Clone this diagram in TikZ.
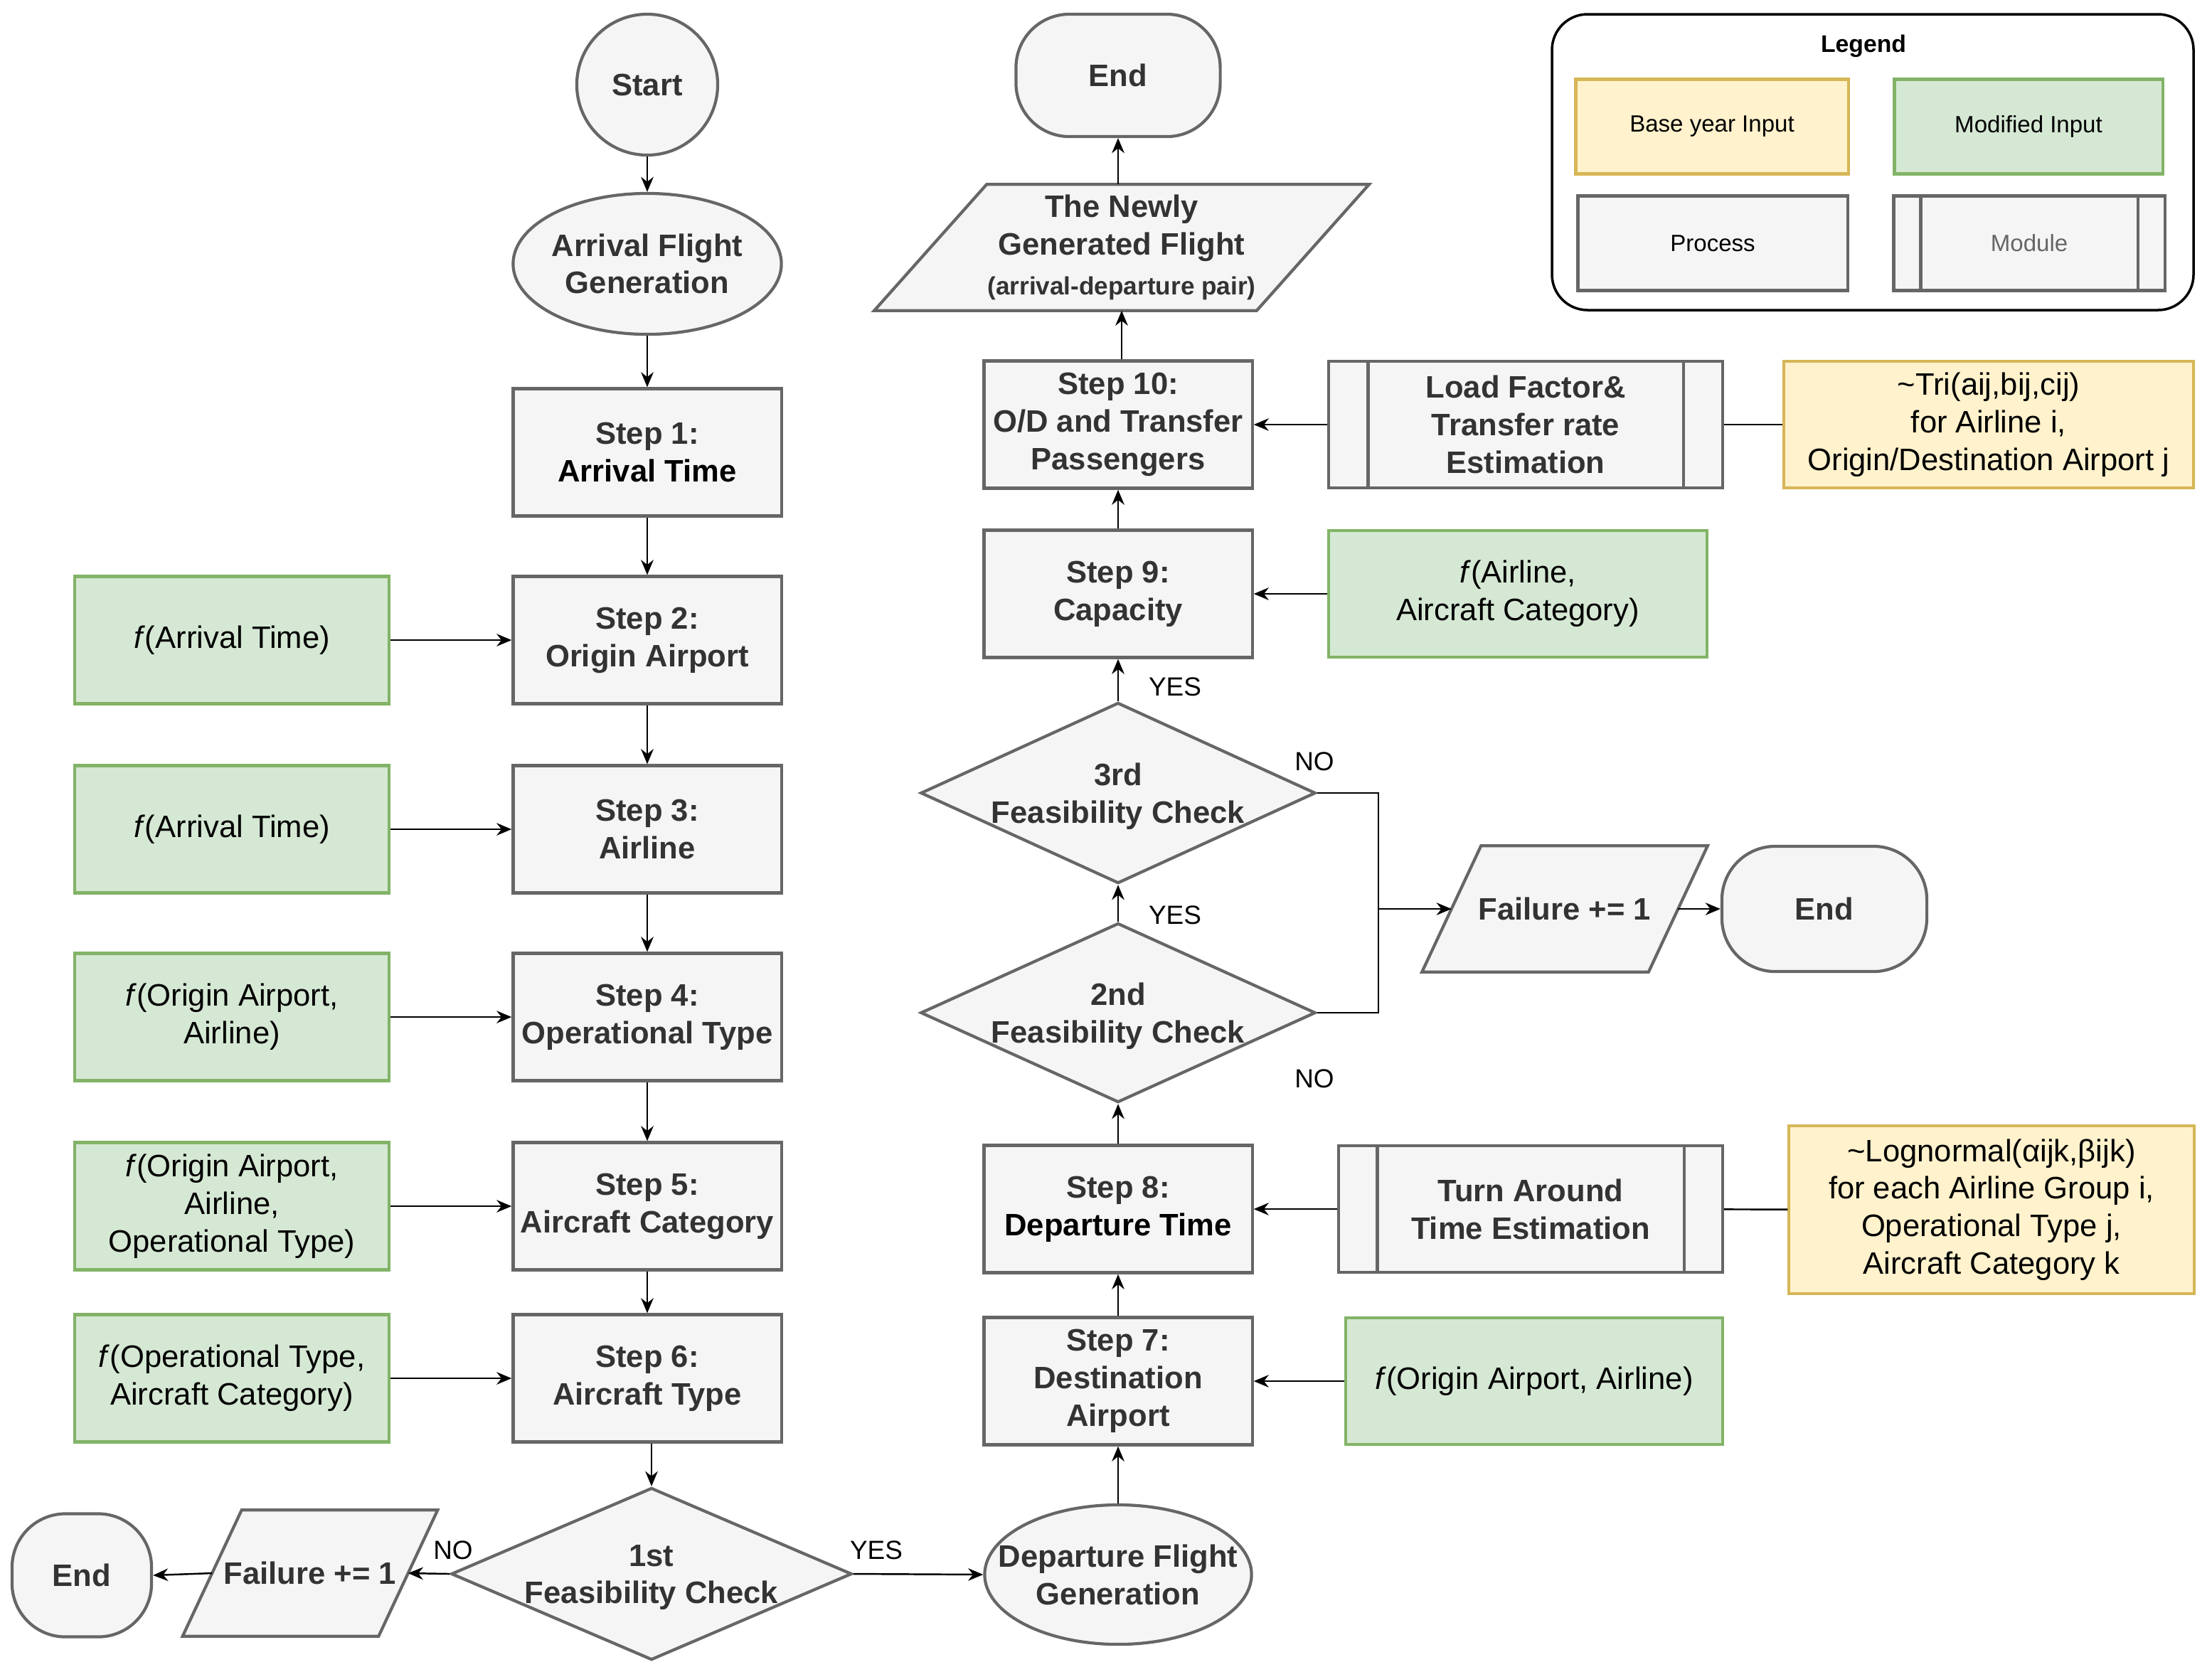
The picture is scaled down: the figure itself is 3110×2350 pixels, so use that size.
\documentclass[tikz,border=0pt]{standalone}
\usepackage{fontspec}
\setmainfont{Liberation Sans}
\usetikzlibrary{shapes.geometric,arrows.meta,backgrounds}
\definecolor{gfill}{HTML}{F5F5F5}
\definecolor{gline}{HTML}{666666}
\definecolor{gtext}{HTML}{333333}
\definecolor{grfill}{HTML}{D5E8D4}
\definecolor{grline}{HTML}{82B366}
\definecolor{yfill}{HTML}{FFF2CC}
\definecolor{yline}{HTML}{D6B656}
\newcommand\paradraw[2]{%
  \begin{scope}[on background layer]
  \draw[pshape] ([xshift=#2]#1.north west) -- ([xshift=#2]#1.north east) -- ([xshift=-#2]#1.south east) -- ([xshift=-#2]#1.south west) -- cycle;
  \end{scope}}
\begin{document}
\begin{tikzpicture}[x=0.01cm,y=-0.01cm,
  mainfont/.style={font=\fontsize{12.4}{15}\selectfont},
  boldfont/.style={font=\fontsize{12.4}{15}\selectfont\bfseries},
  proc/.style={rectangle, draw=gline, fill=gfill, line width=1.2pt, inner sep=1pt, align=center, text=gtext, boldfont, minimum width=3.77cm, minimum height=1.79cm},
  modl/.style={proc, path picture={\draw[draw=gline, line width=1.2pt] ([xshift=#1]path picture bounding box.north west) -- ([xshift=#1]path picture bounding box.south west) ([xshift=-#1]path picture bounding box.north east) -- ([xshift=-#1]path picture bounding box.south east);}},
  gin/.style={rectangle, draw=grline, fill=grfill, line width=1.2pt, inner sep=1pt, align=center, text=black, mainfont, minimum height=1.79cm},
  yin/.style={rectangle, draw=yline, fill=yfill, line width=1.2pt, inner sep=1pt, align=center, text=black, mainfont},
  ov/.style={ellipse, draw=gline, fill=gfill, line width=1.2pt, inner sep=0pt},
  tm/.style={rectangle, rounded corners=0.75cm, draw=gline, fill=gfill, line width=1.2pt, inner sep=0pt, text=gtext, boldfont},
  dm/.style={diamond, draw=gline, fill=gfill, line width=1.2pt, inner sep=0pt},
  tx/.style={align=center, text=gtext, boldfont, inner sep=0pt},
  pz/.style={rectangle, inner sep=0pt, align=center, text=gtext, boldfont},
  pshape/.style={draw=gline, fill=gfill, line width=1.2pt},
  lbl/.style={font=\fontsize{10.5}{12}\selectfont, text=black, inner sep=0pt},
  arr/.style={-{Stealth[length=6pt,width=5pt]}, line width=0.7pt, draw=black},
  ln/.style={line width=0.7pt, draw=black},
  lgd/.style={font=\fontsize{9.4}{11}\selectfont, inner sep=0pt, align=center}
]
\useasboundingbox (0,0) rectangle (3110,2350);

% ---------- Legend ----------
\draw[line width=1pt, draw=black, rounded corners=0.5cm] (2182,20) rectangle (3084,436);
\node[lgd, font=\fontsize{9.6}{11}\selectfont\bfseries] (lgtitle) at (2620,65) {Legend};
\node[yin, lgd, minimum width=3.83cm, minimum height=1.33cm] (lby) at (2407,178) {Base year Input};
\node[gin, lgd, minimum width=3.77cm, minimum height=1.33cm] (lmi) at (2852,178) {Modified Input};
\node[proc, lgd, text=black, minimum width=3.79cm, minimum height=1.33cm] (lpr) at (2408,342) {Process};
\node[modl=0.38cm, lgd, text=gline, minimum width=3.81cm, minimum height=1.33cm] (lmo) at (2853,342) {Module};

% ---------- Left column ----------
\node[ov, minimum width=1.98cm, minimum height=1.98cm] (start) at (910,119) {};
\node[tx] (startt) at (start) {Start};
\node[ov, minimum width=3.77cm, minimum height=1.98cm] (arr) at (910,371) {};
\node[tx] (arrt) at (arr) {Arrival Flight\\Generation};
\node[proc] (s1) at (910,636) {Step 1:\\\textcolor{black}{Arrival Time}};
\node[proc] (s2) at (910,900) {Step 2:\\Origin Airport};
\node[proc] (s3) at (910,1166) {Step 3:\\Airline};
\node[proc] (s4) at (910,1430) {Step 4:\\Operational Type};
\node[proc] (s5) at (910,1696) {Step 5:\\Aircraft Category};
\node[proc] (s6) at (910,1938) {Step 6:\\Aircraft Type};

\node[gin, minimum width=4.42cm] (g2) at (326,900) {\textit{f}(Arrival Time)};
\node[gin, minimum width=4.42cm] (g3) at (326,1166) {\textit{f}(Arrival Time)};
\node[gin, minimum width=4.42cm] (g4) at (326,1430) {\textit{f}(Origin Airport,\\Airline)};
\node[gin, minimum width=4.42cm] (g5) at (326,1696) {\textit{f}(Origin Airport,\\Airline,\\Operational Type)};
\node[gin, minimum width=4.42cm] (g6) at (326,1938) {\textit{f}(Operational Type,\\Aircraft Category)};

\node[dm, minimum width=5.63cm, minimum height=2.42cm] (d1) at (916,2213) {};
\node[tx] (d1t) at (916,2218) {1st\\Feasibility Check};
\node[pz, minimum width=2.74cm, minimum height=1.76cm] (failL) at (436,2212) {Failure += 1};
\paradraw{failL}{0.415cm}
\node[tm, minimum width=1.96cm, minimum height=1.73cm] (endL) at (115,2215) {End};

% ---------- Right column ----------
\node[tm, minimum width=2.87cm, minimum height=1.72cm] (endT) at (1572,106) {End};
\node[pz, minimum width=5.36cm, minimum height=1.76cm] (newly) at (1577,348) {The Newly\\Generated Flight\\[1pt]{\fontsize{10}{12}\selectfont (arrival-departure pair)}};
\paradraw{newly}{0.79cm}
\node[proc] (s10) at (1572,597) {Step 10:\\O/D and Transfer\\Passengers};
\node[proc] (s9) at (1572,835) {Step 9:\\Capacity};
\node[dm, minimum width=5.55cm, minimum height=2.54cm] (d3) at (1572,1115) {};
\node[tx] (d3t) at (1572,1120) {3rd\\Feasibility Check};
\node[dm, minimum width=5.55cm, minimum height=2.52cm] (d2) at (1572,1424) {};
\node[tx] (d2t) at (1572,1429) {2nd\\Feasibility Check};
\node[proc] (s8) at (1572,1700) {Step 8:\\\textcolor{black}{Departure Time}};
\node[proc] (s7) at (1572,1942) {Step 7:\\Destination\\Airport};
\node[ov, minimum width=3.75cm, minimum height=1.96cm] (dep) at (1572,2214) {};
\node[tx] (dept) at (dep) {Departure Flight\\Generation};

% ---------- Right inputs / modules ----------
\node[modl=0.55cm, minimum width=5.53cm, minimum height=1.78cm] (lf) at (2145,597) {Load Factor\&\\Transfer rate\\Estimation};
\node[yin, minimum width=5.75cm, minimum height=1.78cm] (tri) at (2796,597) {\textasciitilde Tri(aij,bij,cij)\\for Airline i,\\Origin/Destination Airport j};
\node[gin, minimum width=5.32cm, minimum height=1.78cm] (g9) at (2134,835) {\textit{f}(Airline,\\Aircraft Category)};
\node[pz, minimum width=3.17cm, minimum height=1.76cm] (failR) at (2200,1278) {Failure += 1};
\paradraw{failR}{0.415cm}
\node[tm, minimum width=2.88cm, minimum height=1.76cm] (endR) at (2565,1278) {End};
\node[modl=0.54cm, minimum width=5.39cm, minimum height=1.78cm] (ta) at (2152,1700) {Turn Around\\Time Estimation};
\node[yin, minimum width=5.69cm, minimum height=2.36cm] (logn) at (2800,1701) {\textasciitilde Lognormal(αijk,βijk)\\for each Airline Group i,\\Operational Type j,\\Aircraft Category k};
\node[gin, minimum width=5.29cm, minimum height=1.78cm] (g7) at (2157,1942) {\textit{f}(Origin Airport, Airline)};

% ---------- Connectors ----------
\draw[arr] (start) -- (arr);
\draw[arr] (arr) -- (s1);
\draw[arr] (s1) -- (s2);
\draw[arr] (s2) -- (s3);
\draw[arr] (s3) -- (s4);
\draw[arr] (s4) -- (s5);
\draw[arr] (s5) -- (s6);
\draw[arr] (s6.south -| d1.north) -- (d1.north);
\draw[arr] (g2) -- (s2);
\draw[arr] (g3) -- (s3);
\draw[arr] (g4) -- (s4);
\draw[arr] (g5) -- (s5);
\draw[arr] (g6) -- (s6);
\draw[arr] (d1.west) -- (failL.east);
\draw[arr] (failL.west) -- (endL.east);
\draw[arr] (d1.east) -- (dep.west);
\draw[arr] (dep) -- (s7);
\draw[arr] (s7) -- (s8);
\draw[arr] (s8) -- (d2);
\draw[arr] (d2) -- (d3);
\draw[arr] (d3) -- (s9);
\draw[arr] (s9) -- (s10);
\draw[arr] (s10.north -| newly.south) -- (newly.south);
\draw[arr] (newly.north -| endT.south) -- (endT.south);
\draw[arr] (lf) -- (s10);
\draw[ln] (tri) -- (lf);
\draw[arr] (g9) -- (s9);
\draw[arr] (ta) -- (s8);
\draw[ln] (logn) -- (ta);
\draw[arr] (g7) -- (s7);
\coordinate (jn) at (1938,1278);
\draw[ln] (d3.east) -| (jn);
\draw[ln] (d2.east) -| (jn);
\draw[arr] (jn) -- (failR.west);
\draw[arr] (failR.east) -- (endR.west);

% ---------- Labels ----------
\node[lbl] (noL) at (637,2180) {NO};
\node[lbl] (yesB) at (1232,2180) {YES};
\node[lbl] (yes2) at (1652,1287) {YES};
\node[lbl] (yes3) at (1652,966) {YES};
\node[lbl] (no3) at (1848,1071) {NO};
\node[lbl] (no2) at (1848,1517) {NO};
\end{tikzpicture}
\end{document}
